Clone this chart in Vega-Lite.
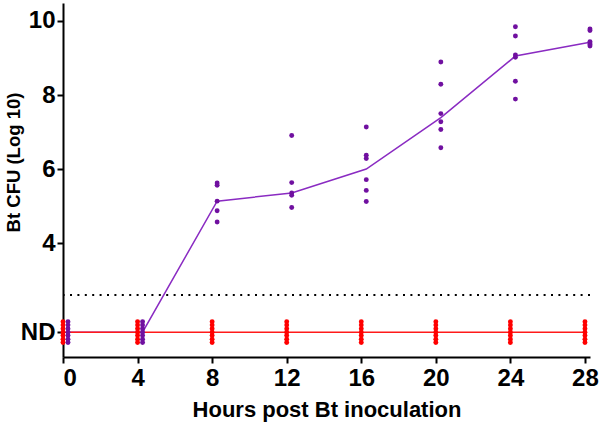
{
  "$schema": "https://vega.github.io/schema/vega-lite/v6.json",
  "width": 527,
  "height": 354,
  "autosize": {"type": "none"},
  "padding": {"left": 63, "top": 3, "right": 10, "bottom": 70},
  "config": {
    "view": {"stroke": null},
    "font": "Liberation Sans",
    "axis": {
      "grid": false,
      "domainColor": "black",
      "domainWidth": 2,
      "tickColor": "black",
      "tickWidth": 2,
      "tickSize": 6,
      "labelFont": "Liberation Sans",
      "labelFontSize": 24,
      "labelFontWeight": "bold",
      "labelColor": "black",
      "titleFont": "Liberation Sans",
      "titleFontWeight": "bold",
      "titleColor": "black"
    }
  },
  "data": {
    "values": [
      {"t": 0, "group": "B", "v": 1.33}, {"t": 0, "group": "B", "v": 1.42}, {"t": 0, "group": "B", "v": 1.52}, {"t": 0, "group": "B", "v": 1.61}, {"t": 0, "group": "B", "v": 1.70}, {"t": 0, "group": "B", "v": 1.80}, {"t": 0, "group": "B", "v": 1.89},
      {"t": 4, "group": "B", "v": 1.33}, {"t": 4, "group": "B", "v": 1.42}, {"t": 4, "group": "B", "v": 1.52}, {"t": 4, "group": "B", "v": 1.61}, {"t": 4, "group": "B", "v": 1.70}, {"t": 4, "group": "B", "v": 1.80}, {"t": 4, "group": "B", "v": 1.89},
      {"t": 8, "group": "B", "v": 5.63}, {"t": 8, "group": "B", "v": 5.57}, {"t": 8, "group": "B", "v": 5.14}, {"t": 8, "group": "B", "v": 4.88}, {"t": 8, "group": "B", "v": 4.58},
      {"t": 12, "group": "B", "v": 6.91}, {"t": 12, "group": "B", "v": 5.64}, {"t": 12, "group": "B", "v": 5.36}, {"t": 12, "group": "B", "v": 5.30}, {"t": 12, "group": "B", "v": 4.97},
      {"t": 16, "group": "B", "v": 7.14}, {"t": 16, "group": "B", "v": 6.38}, {"t": 16, "group": "B", "v": 6.29}, {"t": 16, "group": "B", "v": 5.72}, {"t": 16, "group": "B", "v": 5.43}, {"t": 16, "group": "B", "v": 5.13},
      {"t": 20, "group": "B", "v": 8.89}, {"t": 20, "group": "B", "v": 8.29}, {"t": 20, "group": "B", "v": 7.50}, {"t": 20, "group": "B", "v": 7.28}, {"t": 20, "group": "B", "v": 7.07}, {"t": 20, "group": "B", "v": 6.58},
      {"t": 24, "group": "B", "v": 9.84}, {"t": 24, "group": "B", "v": 9.59}, {"t": 24, "group": "B", "v": 9.08}, {"t": 24, "group": "B", "v": 9.02}, {"t": 24, "group": "B", "v": 8.37}, {"t": 24, "group": "B", "v": 7.89},
      {"t": 28, "group": "B", "v": 9.78}, {"t": 28, "group": "B", "v": 9.74}, {"t": 28, "group": "B", "v": 9.44}, {"t": 28, "group": "B", "v": 9.40}, {"t": 28, "group": "B", "v": 9.36}, {"t": 28, "group": "B", "v": 9.32},
      {"t": 0, "group": "A", "v": 1.33}, {"t": 0, "group": "A", "v": 1.42}, {"t": 0, "group": "A", "v": 1.52}, {"t": 0, "group": "A", "v": 1.61}, {"t": 0, "group": "A", "v": 1.70}, {"t": 0, "group": "A", "v": 1.80}, {"t": 0, "group": "A", "v": 1.89},
      {"t": 4, "group": "A", "v": 1.33}, {"t": 4, "group": "A", "v": 1.42}, {"t": 4, "group": "A", "v": 1.52}, {"t": 4, "group": "A", "v": 1.61}, {"t": 4, "group": "A", "v": 1.70}, {"t": 4, "group": "A", "v": 1.80}, {"t": 4, "group": "A", "v": 1.89},
      {"t": 8, "group": "A", "v": 1.33}, {"t": 8, "group": "A", "v": 1.42}, {"t": 8, "group": "A", "v": 1.52}, {"t": 8, "group": "A", "v": 1.61}, {"t": 8, "group": "A", "v": 1.70}, {"t": 8, "group": "A", "v": 1.80}, {"t": 8, "group": "A", "v": 1.89},
      {"t": 12, "group": "A", "v": 1.33}, {"t": 12, "group": "A", "v": 1.42}, {"t": 12, "group": "A", "v": 1.52}, {"t": 12, "group": "A", "v": 1.61}, {"t": 12, "group": "A", "v": 1.70}, {"t": 12, "group": "A", "v": 1.80}, {"t": 12, "group": "A", "v": 1.89},
      {"t": 16, "group": "A", "v": 1.33}, {"t": 16, "group": "A", "v": 1.42}, {"t": 16, "group": "A", "v": 1.52}, {"t": 16, "group": "A", "v": 1.61}, {"t": 16, "group": "A", "v": 1.70}, {"t": 16, "group": "A", "v": 1.80}, {"t": 16, "group": "A", "v": 1.89},
      {"t": 20, "group": "A", "v": 1.33}, {"t": 20, "group": "A", "v": 1.42}, {"t": 20, "group": "A", "v": 1.52}, {"t": 20, "group": "A", "v": 1.61}, {"t": 20, "group": "A", "v": 1.70}, {"t": 20, "group": "A", "v": 1.80}, {"t": 20, "group": "A", "v": 1.89},
      {"t": 24, "group": "A", "v": 1.33}, {"t": 24, "group": "A", "v": 1.42}, {"t": 24, "group": "A", "v": 1.52}, {"t": 24, "group": "A", "v": 1.61}, {"t": 24, "group": "A", "v": 1.70}, {"t": 24, "group": "A", "v": 1.80}, {"t": 24, "group": "A", "v": 1.89},
      {"t": 28, "group": "A", "v": 1.33}, {"t": 28, "group": "A", "v": 1.42}, {"t": 28, "group": "A", "v": 1.52}, {"t": 28, "group": "A", "v": 1.61}, {"t": 28, "group": "A", "v": 1.70}, {"t": 28, "group": "A", "v": 1.80}, {"t": 28, "group": "A", "v": 1.89}
    ]
  },
  "encoding": {
    "x": {
      "field": "t",
      "type": "quantitative",
      "scale": {"domain": [0, 28.27], "nice": false, "zero": false},
      "axis": {
        "values": [0, 4, 8, 12, 16, 20, 24, 28],
        "title": "Hours post Bt inoculation",
        "titleFontSize": 22,
        "titlePadding": 9,
        "labelPadding": 3
      }
    },
    "y": {
      "field": "v",
      "type": "quantitative",
      "scale": {"domain": [0.94, 10.48], "nice": false, "zero": false},
      "axis": {
        "values": [1.61, 4, 6, 8, 10],
        "labelExpr": "datum.value < 2 ? 'ND' : datum.label",
        "title": "Bt CFU (Log 10)",
        "titleFontSize": 18.5,
        "titleAngle": -90,
        "titleX": -50,
        "titleY": 159,
        "titleAlign": "center",
        "titleBaseline": "middle",
        "labelPadding": 2
      }
    }
  },
  "layer": [
    {
      "data": {"values": [{"lod": 2.61}]},
      "mark": {"type": "rule", "color": "black", "strokeWidth": 2, "strokeDash": [2, 5.4]},
      "encoding": {"x": null, "y": {"field": "lod", "type": "quantitative"}}
    },
    {
      "transform": [{"filter": "datum.group == 'B'"}],
      "mark": {"type": "line", "color": "#8a2bc2", "strokeWidth": 1.5, "xOffset": 5},
      "encoding": {"y": {"aggregate": "median", "field": "v", "type": "quantitative"}}
    },
    {
      "transform": [{"filter": "datum.group == 'A'"}],
      "mark": {"type": "line", "color": "#ff1a1a", "strokeWidth": 1.5},
      "encoding": {"y": {"aggregate": "median", "field": "v", "type": "quantitative"}}
    },
    {
      "transform": [{"filter": "datum.group == 'A'"}],
      "mark": {"type": "circle", "color": "#ff0000", "size": 24, "opacity": 1}
    },
    {
      "transform": [{"filter": "datum.group == 'B'"}],
      "mark": {"type": "circle", "color": "#7010a0", "size": 24, "opacity": 1, "xOffset": 5}
    }
  ]
}
